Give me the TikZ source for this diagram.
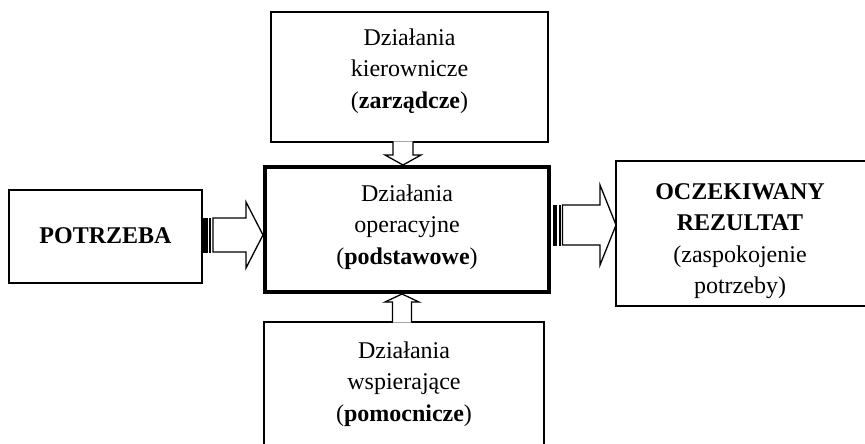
\documentclass[tikz,border=0pt]{standalone}
\usepackage{fontspec}
\setmainfont{Liberation Serif}
\usetikzlibrary{calc}
\begin{document}
\begin{tikzpicture}[x=1pt,y=-1pt,
 box/.style={draw, line width=1.3pt, inner sep=0pt, outer sep=0pt},
 mainbox/.style={draw, line width=4pt, inner sep=0pt, outer sep=0pt},
 txt/.style={align=center, font=\fontsize{24}{31.5}\selectfont, inner sep=0pt},
 barrow/.style={draw, line width=1.3pt, fill=white, line join=miter},
 stripe/.style={draw, fill=black, line width=1pt},
]
\useasboundingbox (0,0) rectangle (865,444);
\clip (0,0) rectangle (865,444);
% boxes
\node[box, minimum width=193pt, minimum height=93pt] (left) at (105.5,236.5) {};
\node[box, minimum width=277pt, minimum height=130pt] (top) at (409.5,77) {};
\node[mainbox, minimum width=284pt, minimum height=125pt] (center) at (407,229.5) {};
\node[box, minimum width=262pt, minimum height=145pt] (right) at (747,233.5) {};
\node[inner sep=0pt, outer sep=0pt, minimum width=280pt, minimum height=140pt] (bottom) at (404,392) {};
\draw[line width=1.3pt] (bottom.south west) -- (bottom.north west) -- (bottom.north east) -- (bottom.south east);
% texts
\node[txt] (ttop) at (409.5,71) {Działania\\kierownicze\\(\textbf{zarządcze})};
\node[txt] (tcenter) at (407,227) {Działania\\operacyjne\\(\textbf{podstawowe})};
\node[txt] (tleft) at (105.5,236) {\textbf{POTRZEBA}};
\node[txt] (tright) at (740,241) {\textbf{OCZEKIWANY}\\\textbf{REZULTAT}\\(zaspokojenie\\potrzeby)};
\node[txt] (tbottom) at (404,384) {Działania\\wspierające\\(\textbf{pomocnicze})};
% arrow anchor coordinates
\coordinate (a1s) at (left.east |- 0,235);
\coordinate (a1e) at (center.west |- 0,235);
\coordinate (a2s) at (center.east |- 0,225);
\coordinate (a2e) at (right.west |- 0,225);
\coordinate (a3s) at (403,0 |- top.south);
\coordinate (a3e) at (403,0 |- center.north);
\coordinate (a4s) at (402,0 |- bottom.north);
\coordinate (a4e) at (402,0 |- center.south);
% left striped arrow
\draw[stripe] ($(a1s)+(1.5,-17)$) rectangle ($(a1s)+(5,17)$);
\draw[stripe] ($(a1s)+(7.5,-17)$) rectangle ($(a1s)+(8.5,17)$);
\draw[barrow] ($(a1s)+(11,-17)$) -- ($(a1e)+(-19,-17)$) -- ($(a1e)+(-19,-33)$) -- ($(a1e)+(-2,0)$)
  -- ($(a1e)+(-19,33)$) -- ($(a1e)+(-19,17)$) -- ($(a1s)+(11,17)$) -- cycle;
% right striped arrow
\draw[stripe] ($(a2s)+(4,-20)$) rectangle ($(a2s)+(7.5,20)$);
\draw[stripe] ($(a2s)+(10,-20)$) rectangle ($(a2s)+(11,20)$);
\draw[barrow] ($(a2s)+(13.5,-20)$) -- ($(a2e)+(-16,-20)$) -- ($(a2e)+(-16,-40)$) -- (a2e)
  -- ($(a2e)+(-16,40)$) -- ($(a2e)+(-16,20)$) -- ($(a2s)+(13.5,20)$) -- cycle;
% down arrow
\path[fill=white] ($(a3s)+(-10,-0.7)$) -- ($(a3e)+(-10,-12)$) -- ($(a3e)+(-18,-12)$) -- ($(a3e)+(0,-2)$)
  -- ($(a3e)+(18,-12)$) -- ($(a3e)+(10,-12)$) -- ($(a3s)+(10,-0.7)$) -- cycle;
\draw[line width=1.3pt, line join=miter] ($(a3s)+(-10,-0.7)$) -- ($(a3e)+(-10,-12)$) -- ($(a3e)+(-18,-12)$) -- ($(a3e)+(0,-2)$)
  -- ($(a3e)+(18,-12)$) -- ($(a3e)+(10,-12)$) -- ($(a3s)+(10,-0.7)$);
% up arrow
\path[fill=white] ($(a4s)+(-9.5,0.7)$) -- ($(a4e)+(-9.5,10)$) -- ($(a4e)+(-17,10)$) -- ($(a4e)+(0,2)$)
  -- ($(a4e)+(17,10)$) -- ($(a4e)+(9.5,10)$) -- ($(a4s)+(9.5,0.7)$) -- cycle;
\draw[line width=1.3pt, line join=miter] ($(a4s)+(-9.5,0.7)$) -- ($(a4e)+(-9.5,10)$) -- ($(a4e)+(-17,10)$) -- ($(a4e)+(0,2)$)
  -- ($(a4e)+(17,10)$) -- ($(a4e)+(9.5,10)$) -- ($(a4s)+(9.5,0.7)$);
\end{tikzpicture}
\end{document}
